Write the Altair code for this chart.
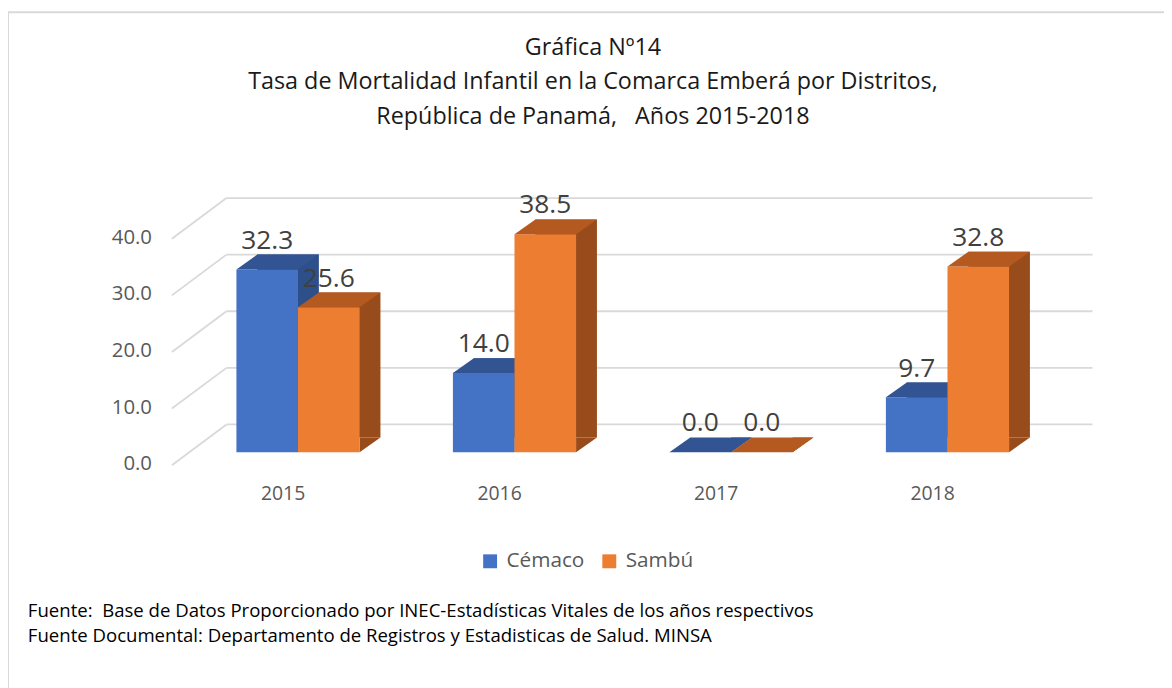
import altair as alt
import pandas as pd

# ---------------- data ----------------
years = ["2015", "2016", "2017", "2018"]
series = ["Cémaco", "Sambú"]
cemaco = [32.3, 14.0, 0.0, 9.7]
sambu = [25.6, 38.5, 0.0, 32.8]
y_ticks = [0, 10, 20, 30, 40]

NB = "\u00a0"  # keep repeated spaces visible in SVG text
title_lines = [
    "Gráfica Nº14",
    "Tasa de Mortalidad Infantil en la Comarca Emberá por Distritos,",
    "República de Panamá," + NB + NB + " Años 2015-2018",
]
source_lines = [
    "Fuente:" + NB + " Base de Datos Proporcionado por INEC-Estadísticas Vitales de los años respectivos",
    "Fuente Documental: Departamento de Registros y Estadisticas de Salud. MINSA",
]

rows = []
for i, yr in enumerate(years):
    rows.append({"year": yr, "series": series[0], "value": cemaco[i]})
    rows.append({"year": yr, "series": series[1], "value": sambu[i]})
df = pd.DataFrame(rows)
ticks_df = pd.DataFrame({"v": y_ticks})
years_df = pd.DataFrame({"year": years})
title_df = pd.DataFrame({"t": ["\n".join(title_lines)]})
source_df = pd.DataFrame({"t": ["\n".join(source_lines)]})

# ---------------- style ----------------
FONT = "Open Sans"
BLUE, BLUE_TOP, BLUE_SIDE = "#4472C4", "#325492", "#2D4F8A"
ORANGE, ORANGE_TOP, ORANGE_SIDE = "#ED7D31", "#B45A20", "#984C1C"
GRID = "#d9d9d9"
DX, DY = 21, -15          # depth of the 3-D bars (pixels)
SUB = 62                  # width of one bar (half the group band)
TOP_PATH = "M-31,0L-10,-15L52,-15L31,0Z"
TRI_PATH = "M31,0L52,-15L31,-15Z"

x_scale = alt.Scale(domain=years, range=[230, 1008], paddingInner=0.431, paddingOuter=0)
xo_scale = alt.Scale(domain=series, paddingInner=0, paddingOuter=0)
y_scale = alt.Scale(domain=[0, 40], range=[445, 217], nice=False, zero=True)
color_scale = alt.Scale(domain=series, range=[BLUE, ORANGE])

X = alt.X("year:N", scale=x_scale, axis=None)
XO = alt.XOffset("series:N", scale=xo_scale)
Y = alt.Y("value:Q", scale=y_scale, axis=None)
Y0 = alt.Y("zero:Q", scale=y_scale, axis=None)
Y2 = alt.Y2("zero:Q")

legend = alt.Legend(
    orient="none", legendX=475, legendY=544, direction="horizontal", title=None,
    symbolType="square", symbolSize=196, symbolStrokeWidth=0,
    labelFont=FONT, labelFontSize=20.9, labelColor="#595959",
    columnPadding=14, labelOffset=6,
)

# ---------------- background: border, grid, axis ----------------
border = alt.Chart(years_df).transform_aggregate(n="count()").mark_rect(
    fillOpacity=0, stroke=GRID, strokeWidth=2
).encode(x=alt.value(0), x2=alt.value(1170), y=alt.value(2), y2=alt.value(690))

grid = alt.Chart(ticks_df).mark_rule(color=GRID, strokeWidth=1.8, yOffset=-28).encode(
    y=alt.Y("v:Q", scale=y_scale, axis=None), x=alt.value(220), x2=alt.value(1092)
)
diag = alt.Chart(ticks_df).mark_rule(color=GRID, strokeWidth=1.8, yOffset=13, y2Offset=-28).encode(
    y=alt.Y("v:Q", scale=y_scale, axis=None), y2=alt.Y2("v:Q"),
    x=alt.value(165), x2=alt.value(220)
)
ylabels = alt.Chart(ticks_df).mark_text(
    align="right", baseline="middle", yOffset=12, font=FONT, fontSize=20.5, color="#595959"
).encode(
    y=alt.Y("v:Q", scale=y_scale, axis=None), x=alt.value(145),
    text=alt.Text("v:Q", format=".1f")
)
xlabels = alt.Chart(years_df).mark_text(
    baseline="middle", dx=-15, font=FONT, fontSize=19.5, color="#595959"
).encode(x=X, y=alt.value(487), text="year:N")


# ---------------- 3D-looking bars ----------------
def series_layers(idx, top_col, side_col):
    name = series[idx]
    base = alt.Chart(df).transform_filter(alt.datum.series == name).transform_calculate(zero="0")
    shift = (idx - 0.5) * SUB + DX
    side = base.mark_bar(
        color=side_col, width=alt.RelativeBandSize(0.5),
        xOffset=shift, x2Offset=shift, yOffset=DY, y2Offset=DY,
    ).encode(x=X, y=Y, y2=Y2)
    tri = base.mark_point(shape=TRI_PATH, size=4, filled=True, opacity=1, strokeWidth=0, color=side_col).encode(
        x=X, xOffset=XO, y=Y0
    )
    front = base.mark_bar(opacity=1).encode(
        x=X, xOffset=XO, y=Y, y2=Y2,
        color=alt.Color("series:N", scale=color_scale, legend=legend),
    )
    top = base.mark_point(shape=TOP_PATH, size=4, filled=True, opacity=1, strokeWidth=0, color=top_col).encode(
        x=X, xOffset=XO, y=Y
    )
    return [side, tri, front, top]


bars = series_layers(0, BLUE_TOP, BLUE_SIDE) + series_layers(1, ORANGE_TOP, ORANGE_SIDE)

labels = alt.Chart(df).mark_text(
    baseline="alphabetic", dy=-21, font=FONT, fontSize=26.5, color="#404040"
).encode(x=X, xOffset=XO, y=Y, text=alt.Text("value:Q", format=".1f"))

# ---------------- title & sources ----------------
title = alt.Chart(title_df).mark_text(
    align="center", baseline="alphabetic", lineBreak="\n", lineHeight=34.5,
    font=FONT, fontSize=23.5, color="#1a1a1a"
).encode(x=alt.value(589), y=alt.value(45), text="t:N")

sources = alt.Chart(source_df).mark_text(
    align="left", baseline="alphabetic", lineBreak="\n", lineHeight=25,
    font=FONT, fontSize=18.7, color="#000000"
).encode(x=alt.value(20), y=alt.value(611), text="t:N")

chart = alt.layer(
    border, grid, diag, ylabels, xlabels, *bars, labels, title, sources
).properties(
    width=1164, height=680, padding=0,
    autosize=alt.AutoSizeParams(type="none"),
).configure_view(stroke=None)

chart.save("out.html", embed_options={"renderer": "svg", "actions": False})
